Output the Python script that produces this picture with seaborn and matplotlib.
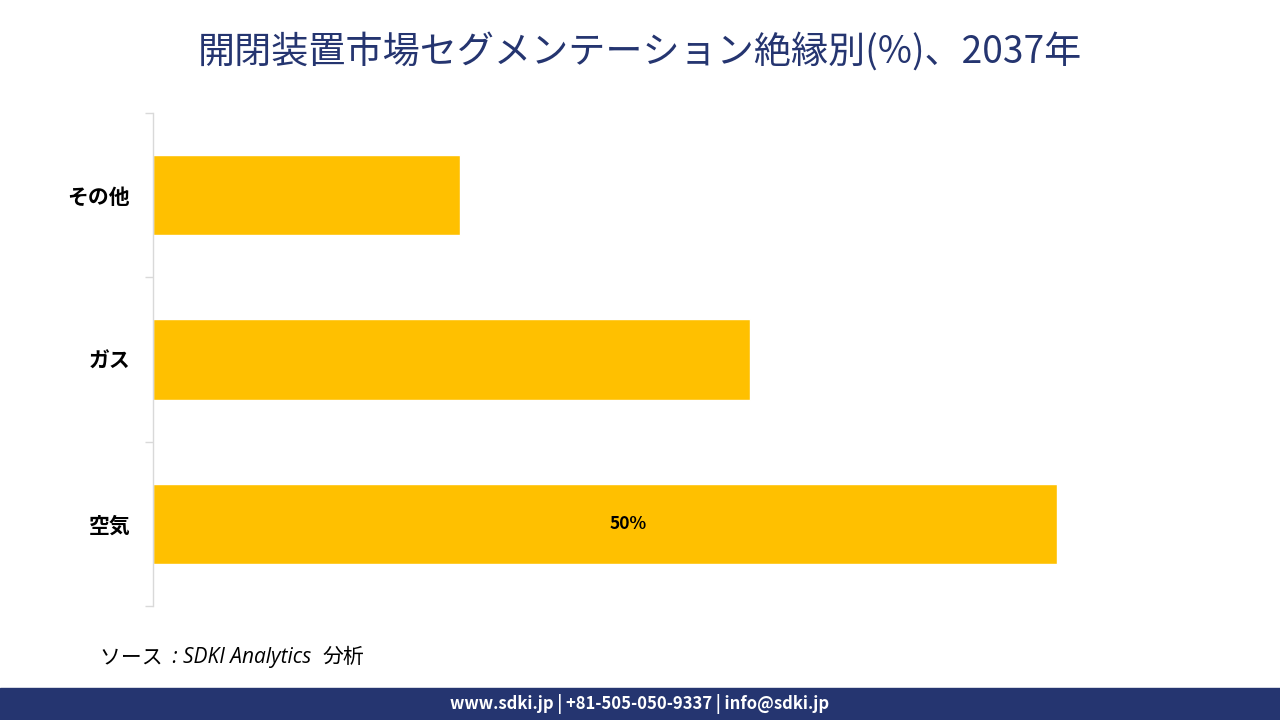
import matplotlib
matplotlib.use("Agg")
import matplotlib.pyplot as plt
import seaborn as sns
import pandas as pd

categories = ["その他", "ガス", "空気"]
values = [17, 33, 50]
bar_labels = ["", "", "50%"]

title = "開閉装置市場セグメンテーション絶縁別(%)、2037年"
source_jp = "ソース "
source_en = " : SDKI Analytics  "
source_jp2 = "分析"
footer = "www.sdki.jp | +81-505-050-9337 | info@sdki.jp"

sns.set_theme(style="white")
plt.rcParams['font.family'] = ['Noto Sans CJK JP', 'DejaVu Sans']

df = pd.DataFrame({"cat": categories, "val": values})

fig = plt.figure(figsize=(12.8, 7.2), dpi=100)
ax = fig.add_axes([153/1280, 1 - 606/720, (1238 - 153)/1280, (606 - 113)/720])
sns.barplot(data=df, y="cat", x="val", order=categories, color="#FFC000",
            saturation=1, width=0.49, ax=ax)
ax.set_xlim(0, 60)
ax.set_ylim(2.5, -0.5)
ax.set_xlabel("")
ax.set_ylabel("")
ax.xaxis.set_visible(False)
for s in ["top", "right", "bottom"]:
    ax.spines[s].set_visible(False)
ax.spines["left"].set_color("#d9d9d9")
ax.spines["left"].set_linewidth(1)
ax.tick_params(axis="y", which="major", length=0, pad=16.5)
ax.set_yticks([-0.5, 0.5, 1.5, 2.5], minor=True)
ax.tick_params(axis="y", which="minor", left=True, length=6,
               color="#d9d9d9", width=1)
for lbl in ax.get_yticklabels():
    lbl.set_fontsize(15)
    lbl.set_fontweight("bold")
    lbl.set_color("#000000")

for i, (v, t) in enumerate(zip(values, bar_labels)):
    if t:
        ax.text(v / 2 + 1.3, i, t, ha="center", va="center", fontsize=12.5,
                fontweight="bold", color="#000000")

fig.text(0.5, 1 - 52/720, title, ha="center", va="center", fontsize=26.7,
         color="#253570")

# source line: Japanese parts upright (no CJK italic), Latin part italic
ys = 1 - 657/720
t1 = fig.text(100/1280, ys, source_jp, ha="left", va="center", fontsize=15,
              color="#000000")
fig.canvas.draw()
r = fig.canvas.get_renderer()
bb = t1.get_window_extent(r)
t2 = fig.text(bb.x1/1280, ys, source_en, ha="left", va="center", fontsize=15,
              style="italic", family=["Open Sans", "DejaVu Sans"], color="#000000")
bb2 = t2.get_window_extent(r)
fig.text(bb2.x1/1280, ys, source_jp2, ha="left", va="center", fontsize=15,
         color="#000000")

fig.patches.append(plt.Rectangle((0, 0), 1, 32/720, transform=fig.transFigure,
                                 color="#253570", zorder=0))
fig.text(0.5, 16/720, footer, ha="center", va="center", fontsize=12,
         fontweight="bold", color="white")

fig.savefig("out.png", dpi=100)
